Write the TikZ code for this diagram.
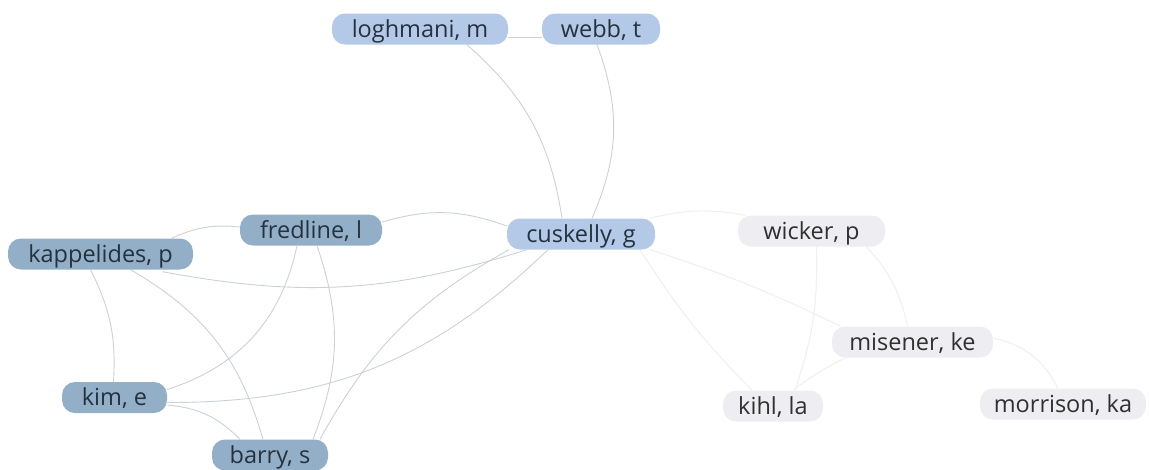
\documentclass[tikz,border=0pt]{standalone}
\usepackage{fontspec}
\setmainfont{Open Sans}
\definecolor{lblue}{HTML}{B4C9E8}
\definecolor{dblue}{HTML}{92AFC7}
\definecolor{lgrey}{HTML}{EEEEF2}
\definecolor{txtdark}{HTML}{243240}
\definecolor{txtgrey}{HTML}{303030}
\definecolor{edgecol}{HTML}{CBD1D8}
\definecolor{faintcol}{HTML}{EFF0F3}
\pgfdeclarelayer{bg}
\pgfsetlayers{bg,main}
\tikzset{
  nd/.style={rounded corners=13pt, minimum height=31pt, inner xsep=4pt, inner ysep=0pt,
    text height=19pt, text depth=3pt, font=\fontsize{23.5}{26}\selectfont},
  nblue/.style={nd, fill=lblue, text=txtdark},
  ndark/.style={nd, fill=dblue, text=txtdark},
  ngrey/.style={nd, fill=lgrey, text=txtgrey},
  edge/.style={draw=edgecol, line width=0.9pt},
  faint/.style={draw=faintcol, line width=1.1pt}
}
\begin{document}
\begin{tikzpicture}[x=1pt,y=1pt]
\useasboundingbox (0,0) rectangle (1149,-469);
% nodes
\node[nblue, minimum width=176pt] (lo) at (420,-29) {loghmani, m};
\node[nblue, minimum width=118pt] (we) at (601,-29) {webb, t};
\node[ndark, minimum width=142pt] (fr) at (311,-230) {fredline, l};
\node[ndark, minimum width=185pt] (ka) at (100.5,-254) {kappelides, p};
\node[nblue, minimum width=148pt] (cu) at (581,-234) {cuskelly, g};
\node[ngrey, minimum width=147pt] (wi) at (811.5,-231) {wicker, p};
\node[ngrey, minimum width=161pt] (mi) at (912.5,-342) {misener, ke};
\node[ngrey, minimum width=100pt] (ki) at (773,-406) {kihl, la};
\node[ngrey, minimum width=166pt] (mo) at (1063,-404) {morrison, ka};
\node[ndark, minimum width=105pt] (kim) at (114.5,-397.5) {kim, e};
\node[ndark, minimum width=116pt] (ba) at (270,-455) {barry, s};
% edges
\begin{pgfonlayer}{bg}
\draw[edge] ([yshift=-8pt]lo.east) -- ([yshift=-8pt]we.west);
\draw[edge] ([xshift=47pt]lo.south) to[bend left=20] ([xshift=-19pt]cu.north);
\draw[edge] ([xshift=-4pt]we.south) to[bend left=22] ([xshift=11pt]cu.north);
\draw[edge] ([yshift=8pt]fr.east) to[bend left=18] ([yshift=8pt]cu.west);
\draw[edge] ([xshift=71pt]ka.north) to[bend left=15] ([yshift=3pt]fr.west);
\draw[edge] ([xshift=62pt,yshift=-2pt]ka.south) to[bend right=14] ([xshift=-54pt]cu.south);
\draw[edge] ([xshift=-10pt]ka.south) to[bend left=15] ([xshift=-1pt]kim.north);
\draw[edge] ([xshift=30pt]ka.south) to[bend left=22] ([xshift=-7pt]ba.north);
\draw[edge] ([xshift=-14pt]fr.south) to[bend left=30] ([yshift=8pt]kim.east);
\draw[edge] ([xshift=6pt]fr.south) to[bend left=20] ([xshift=43pt]ba.north);
\draw[edge] ([xshift=-72pt]cu.south) to[bend right=16] ([xshift=50pt]ba.north);
\draw[edge] ([xshift=-33pt]cu.south) to[bend left=22] ([yshift=-5pt]kim.east);
\draw[edge] ([yshift=-7.5pt]kim.east) to[bend left=20] ([xshift=-30pt]ba.north);
\draw[faint] ([xshift=69pt]cu.north) to[bend left=12] ([xshift=-66pt]wi.north);
\draw[faint] ([xshift=69pt]cu.south) to[bend left=4] ([xshift=-72pt]mi.north);
\draw[faint] ([xshift=59pt]cu.south) to[bend right=6] ([xshift=-21pt]ki.north);
\draw[faint] ([xshift=55pt]wi.south) to[bend left=15] ([xshift=-5pt]mi.north);
\draw[faint] ([xshift=5pt]wi.south) to[bend left=10] ([xshift=22pt]ki.north);
\draw[faint] ([xshift=-67pt]mi.south) to[bend right=5] ([xshift=20pt]ki.north);
\draw[faint] ([yshift=4pt]mi.east) to[bend left=25] ([xshift=-5pt]mo.north);
\end{pgfonlayer}
\end{tikzpicture}
\end{document}
